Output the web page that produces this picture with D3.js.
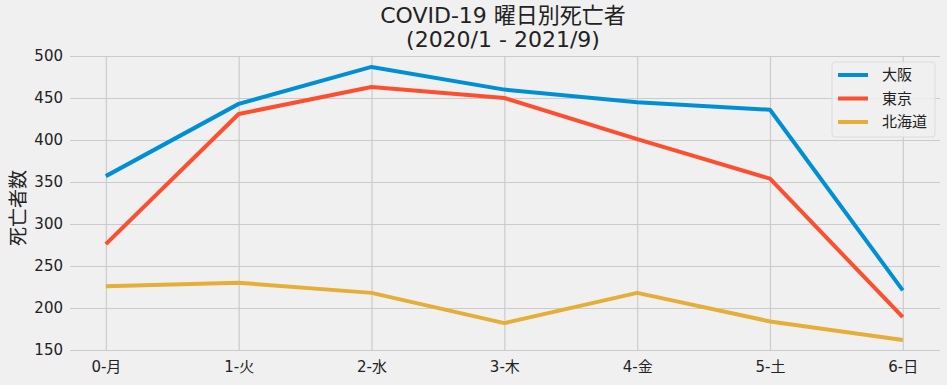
<!DOCTYPE html>
<html><head><meta charset="utf-8">
<script src="https://cdn.jsdelivr.net/npm/d3@7/dist/d3.min.js"></script>
<style>body{margin:0;background:#f0f0f0;}svg{display:block;}</style>
</head><body>
<script>
const categories = ["0-月","1-火","2-水","3-木","4-金","5-土","6-日"];
const seriesNames = ["大阪","東京","北海道"];
const osaka = [357, 443, 487, 460, 445, 436, 221];
const tokyo = [276, 431, 463, 450, 401, 354, 189];
const hokkaido = [226, 230, 218, 182, 218, 184, 162];
const yTicks = [150, 200, 250, 300, 350, 400, 450, 500];
const colors = ["#008fd5", "#fc4f30", "#e5ae38"];

(function(){
const W = 947, H = 385;
const font = "'DejaVu Sans', 'Noto Sans CJK JP', sans-serif";
const svg = d3.select("body").append("svg").attr("width", W).attr("height", H)
  .style("background", "#f0f0f0");

const pL = 70, pR = 940, pT = 56, pB = 350;
const x = d3.scaleLinear().domain([-0.27, 6.28]).range([pL, pR]);
const y = d3.scaleLinear().domain([150, 500]).range([pB, pT]);

const gy = svg.append("g").attr("transform", `translate(${pL},0)`)
  .call(d3.axisLeft(y).tickValues(yTicks).tickSize(-(pR - pL)).tickPadding(7));
const gx = svg.append("g").attr("transform", `translate(0,${pB})`)
  .call(d3.axisBottom(x).tickValues(d3.range(categories.length)).tickFormat(i => categories[i])
    .tickSize(-(pB - pT)).tickPadding(11));
[gx, gy].forEach(g => {
  g.select(".domain").remove();
  g.selectAll(".tick line").attr("stroke", "#cbcbcb").attr("stroke-width", 1.2);
  g.selectAll(".tick text").attr("fill", "#222").style("font-family", font).style("font-size", "15px");
});
gx.selectAll(".tick text").attr("dy", "0.71em");

const data = [osaka, tokyo, hokkaido];
const line = d3.line().x((d, i) => x(i)).y(d => y(d));
data.forEach((s, k) => {
  svg.append("path").datum(s).attr("d", line).attr("fill", "none")
    .attr("stroke", colors[k]).attr("stroke-width", 4).attr("stroke-linejoin", "round");
});

svg.append("text").attr("x", 503).attr("y", 23).attr("text-anchor", "middle").attr("fill", "#222")
  .style("font-family", font).style("font-size", "22px").text("COVID-19 曜日別死亡者");
svg.append("text").attr("x", 503).attr("y", 47).attr("text-anchor", "middle").attr("fill", "#222")
  .style("font-family", font).style("font-size", "22px").text("(2020/1 - 2021/9)");

svg.append("text").attr("transform", "translate(18.5,208) rotate(-90)")
  .attr("text-anchor", "middle").attr("dy", "0.35em").attr("fill", "#222")
  .style("font-family", font).style("font-size", "19px").text("死亡者数");

const lg = svg.append("g");
lg.append("rect").attr("x", 832).attr("y", 62).attr("width", 103).attr("height", 75)
  .attr("rx", 3).attr("fill", "#f0f0f0").attr("fill-opacity", 0.85).attr("stroke", "#dcdcdc");
seriesNames.forEach((n, k) => {
  const yy = 75 + k * 23.5;
  lg.append("line").attr("x1", 838).attr("x2", 868).attr("y1", yy).attr("y2", yy)
    .attr("stroke", colors[k]).attr("stroke-width", 4);
  lg.append("text").attr("x", 882).attr("y", yy).attr("dy", "0.35em").attr("fill", "#222")
    .style("font-family", font).style("font-size", "15px").text(n);
});
})();
</script>
</body></html>
